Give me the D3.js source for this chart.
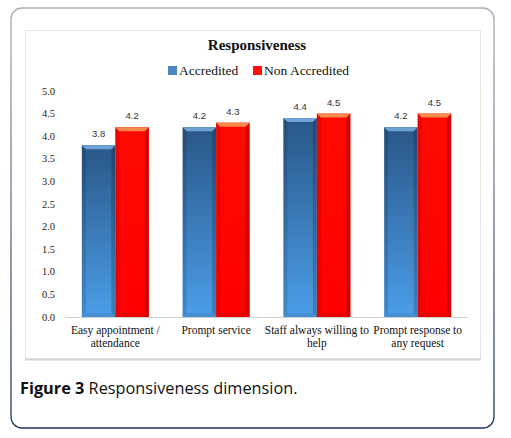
<!DOCTYPE html>
<html><head><meta charset="utf-8">
<script src="https://cdn.jsdelivr.net/npm/d3@7"></script>
<style>html,body{margin:0;padding:0;background:#fff;}svg{display:block;}</style>
</head><body>
<script>
const categories = [["Easy appointment /","attendance"],["Prompt service"],["Staff always willing to","help"],["Prompt response to","any request"]];
const seriesNames = ["Accredited","Non Accredited"];
const accredited = [3.8, 4.2, 4.4, 4.2];
const nonAccredited = [4.2, 4.3, 4.5, 4.5];
const yTicks = [0,0.5,1,1.5,2,2.5,3,3.5,4,4.5,5];

const W=511,H=438;
const svg=d3.select("body").append("svg").attr("width",W).attr("height",H);
const defs=svg.append("defs");
const bg=defs.append("linearGradient").attr("id","borderG").attr("x1",0).attr("y1",0).attr("x2",0).attr("y2",1);
bg.append("stop").attr("offset","0%").attr("stop-color","#a7adb8");
bg.append("stop").attr("offset","100%").attr("stop-color","#1d365c");
const blueG=defs.append("linearGradient").attr("id","blueG").attr("x1",0).attr("y1",0).attr("x2",0).attr("y2",1);
blueG.append("stop").attr("offset","0%").attr("stop-color","#2a5788");
blueG.append("stop").attr("offset","100%").attr("stop-color","#4b9ee8");
const redG=defs.append("linearGradient").attr("id","redG").attr("x1",0).attr("y1",0).attr("x2",0).attr("y2",1);
redG.append("stop").attr("offset","0%").attr("stop-color","#ff0a00");
redG.append("stop").attr("offset","100%").attr("stop-color","#ff0000");

// outer rounded box
svg.append("rect").attr("x",11).attr("y",8).attr("width",483).attr("height",420).attr("rx",11)
  .attr("fill","#fff").attr("stroke","url(#borderG)").attr("stroke-width",1.3);
// inner chart frame
svg.append("rect").attr("x",25.5).attr("y",30.5).attr("width",455).attr("height",328)
  .attr("fill","#fff").attr("stroke","#e6e6e6").attr("stroke-width",1);
svg.append("line").attr("x1",25).attr("x2",481).attr("y1",359.5).attr("y2",359.5).attr("stroke","#d4d4d4").attr("stroke-width",2);

// title
svg.append("text").attr("x",257).attr("y",50).attr("text-anchor","middle")
  .attr("font-family","Liberation Serif").attr("font-weight","bold").attr("font-size",15).attr("fill","#111").text("Responsiveness");

// legend
const leg=[{x:168,c:"#4a86c0",t:seriesNames[0]},{x:253,c:"#ff1010",t:seriesNames[1]}];
leg.forEach(l=>{
  svg.append("rect").attr("x",l.x).attr("y",66).attr("width",9).attr("height",9).attr("fill",l.c);
  svg.append("text").attr("x",l.x+11).attr("y",75).attr("font-family","Liberation Serif").attr("font-size",13.5).attr("fill","#111").text(l.t);
});

const x=d3.scaleBand().domain(d3.range(categories.length)).range([65,468]).paddingInner(0.335).paddingOuter(0.167);
const xs=d3.scaleBand().domain([0,1]).range([0,x.bandwidth()]);
const y=d3.scaleLinear().domain([0,5]).range([317,91]);

// y tick labels
svg.append("g").selectAll("text").data(yTicks).join("text")
  .attr("x",55).attr("y",d=>y(d)+3.5).attr("text-anchor","end")
  .attr("font-family","Liberation Serif").attr("font-size",10.5).attr("fill","#222").text(d=>d.toFixed(1));

// baseline
svg.append("line").attr("x1",65).attr("x2",468).attr("y1",317.5).attr("y2",317.5).attr("stroke","#d0d0d0").attr("stroke-width",1);

const data=[];
categories.forEach((c,i)=>{
  data.push({i,s:0,v:accredited[i]});
  data.push({i,s:1,v:nonAccredited[i]});
});
const bev=4;
const g=svg.append("g");
data.forEach(d=>{
  const x0=x(d.i)+xs(d.s), w=xs.bandwidth(), y0=y(d.v), y1=y(0), h=y1-y0;
  const blue=d.s===0;
  g.append("rect").attr("x",x0).attr("y",y0).attr("width",w).attr("height",h).attr("fill",blue?"url(#blueG)":"url(#redG)");
  g.append("polygon").attr("points",[[x0,y0],[x0+bev,y0+bev],[x0+bev,y1-bev],[x0,y1]].join(" "))
    .attr("fill",blue?"#000":"#c00000").attr("opacity",blue?0.12:0.35);
  g.append("polygon").attr("points",[[x0+w,y0],[x0+w-bev,y0+bev],[x0+w-bev,y1-bev],[x0+w,y1]].join(" "))
    .attr("fill",blue?"#000":"#a00000").attr("opacity",blue?0.18:0.45);
  g.append("polygon").attr("points",[[x0,y1],[x0+bev,y1-bev],[x0+w-bev,y1-bev],[x0+w,y1]].join(" "))
    .attr("fill",blue?"#000":"#b00000").attr("opacity",blue?0.08:0.3);
  g.append("polygon").attr("points",[[x0,y0],[x0+w,y0],[x0+w-bev,y0+bev],[x0+bev,y0+bev]].join(" "))
    .attr("fill",blue?"#6fa3d6":"#f5894a");
  g.append("text").attr("x",x0+w/2).attr("y",y0-8).attr("text-anchor","middle")
    .attr("font-family","Liberation Sans").attr("font-size",9.5).attr("fill","#333").text(d.v.toFixed(1));
});

// x labels
categories.forEach((c,i)=>{
  const t=svg.append("text").attr("x",x(i)+x.bandwidth()/2).attr("y",334).attr("text-anchor","middle")
    .attr("font-family","Liberation Serif").attr("font-size",11.5).attr("fill","#111");
  c.forEach((line,k)=>t.append("tspan").attr("x",x(i)+x.bandwidth()/2).attr("dy",k?12.5:0).text(line));
});

// caption
const cap=svg.append("text").attr("x",20).attr("y",394).attr("font-family","Open Sans").attr("font-size",16.3).attr("fill","#111");
cap.append("tspan").attr("font-weight","bold").text("Figure 3");
cap.append("tspan").text(" Responsiveness dimension.");
</script>
</body></html>
